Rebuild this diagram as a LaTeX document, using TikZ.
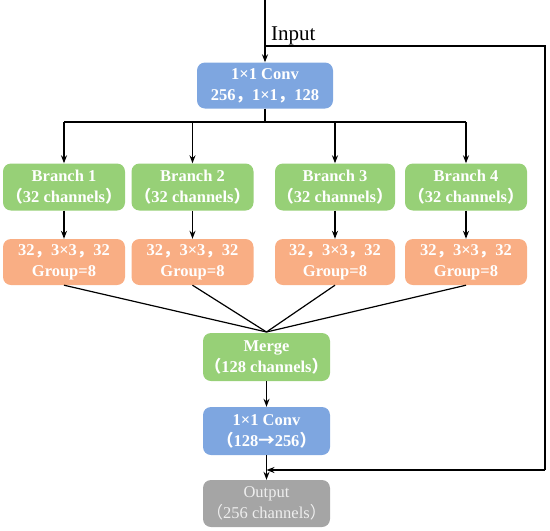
\documentclass[tikz,border=0pt]{standalone}
\usepackage{fontspec}
\setmainfont{Liberation Serif}
\newfontfamily\cjk{Noto Sans CJK SC}
\usetikzlibrary{arrows.meta}
\definecolor{cblue}{HTML}{7EA6E0}
\definecolor{cgreen}{HTML}{97D077}
\definecolor{corange}{HTML}{F9AE84}
\definecolor{cgray}{HTML}{A5A5A5}
\definecolor{cgraytext}{HTML}{EEEEEE}
\newcommand{\fl}{{\cjk （}}
\newcommand{\fr}{{\cjk ）}}
\newcommand{\fc}{{\cjk ，}}
\begin{document}
\begin{tikzpicture}[x=1pt,y=-1pt,
  box/.style={rounded corners=8pt, minimum height=46pt, inner sep=0pt, align=center,
    text=white, font=\fontsize{16.5}{21}\selectfont\bfseries},
  bluebox/.style={box, fill=cblue},
  greenbox/.style={box, fill=cgreen},
  orangebox/.style={box, fill=corange},
  graybox/.style={box, fill=cgray, text=cgraytext, font=\fontsize{16.5}{21}\selectfont},
  conn/.style={line width=1.2pt, black},
  arr/.style={conn, -{Stealth[length=8pt,width=6pt]}}
]
\useasboundingbox (0,0) rectangle (550,531);

\coordinate (in) at (265,0);
\coordinate (split) at (265,46);
\coordinate (skipA) at (545,46);
\coordinate (skipB) at (545,470);
\coordinate (skipC) at (266.5,470);
\coordinate (fork) at (265,122);
\coordinate (join) at (266.5,332);

\node[bluebox, minimum width=136pt] (conv1) at (265,85.5) {1×1 Conv\\256\fc 1×1\fc 128};

\node[greenbox, minimum width=122pt, minimum height=47pt] (b1) at (64,187) {Branch 1\\\fl 32 channels\fr};
\node[greenbox, minimum width=122pt, minimum height=47pt] (b2) at (192.5,187) {Branch 2\\\fl 32 channels\fr};
\node[greenbox, minimum width=120pt, minimum height=47pt] (b3) at (335,187) {Branch 3\\\fl 32 channels\fr};
\node[greenbox, minimum width=122pt, minimum height=47pt] (b4) at (466,187) {Branch 4\\\fl 32 channels\fr};

\node[orangebox, minimum width=122pt] (g1) at (64,262) {32\fc 3×3\fc 32\\Group=8};
\node[orangebox, minimum width=122pt] (g2) at (192.5,262) {32\fc 3×3\fc 32\\Group=8};
\node[orangebox, minimum width=120pt] (g3) at (335,262) {32\fc 3×3\fc 32\\Group=8};
\node[orangebox, minimum width=122pt] (g4) at (466,262) {32\fc 3×3\fc 32\\Group=8};

\node[greenbox, minimum width=127pt, minimum height=48pt] (merge) at (266.5,357) {Merge\\\fl 128 channels\fr};
\node[bluebox, minimum width=127pt, minimum height=48pt] (conv2) at (266.5,431) {1×1 Conv\\\fl 128{\cjk →}256\fr};
\node[graybox, minimum width=127pt, minimum height=47pt] (out) at (266.5,503.5) {Output\\\fl 256 channels\fr};

\node[anchor=base west, font=\fontsize{21}{24}\selectfont, inner sep=0pt] (inlabel) at (271,40) {Input};

% input
\draw[arr] (in) -- (conv1.north);
% skip connection
\draw[conn] (split) -- (skipA) -- (skipB);
\draw[arr] (skipB) -- (skipC);
% fork
\draw[conn] (conv1.south) -- (fork);
\draw[conn] (b1.north |- fork) -- (b4.north |- fork);
\foreach \b in {b1,b2,b3,b4} {\draw[arr] (\b.north |- fork) -- (\b.north);}
\draw[arr] (b1) -- (g1);
\draw[arr] (b2) -- (g2);
\draw[arr] (b3) -- (g3);
\draw[arr] (b4) -- (g4);
% join
\foreach \g in {g1,g2,g3,g4} {\draw[conn] (\g.south) -- (join);}
\draw[arr] (merge) -- (conv2);
\draw[arr] (conv2) -- (out);
\end{tikzpicture}
\end{document}
